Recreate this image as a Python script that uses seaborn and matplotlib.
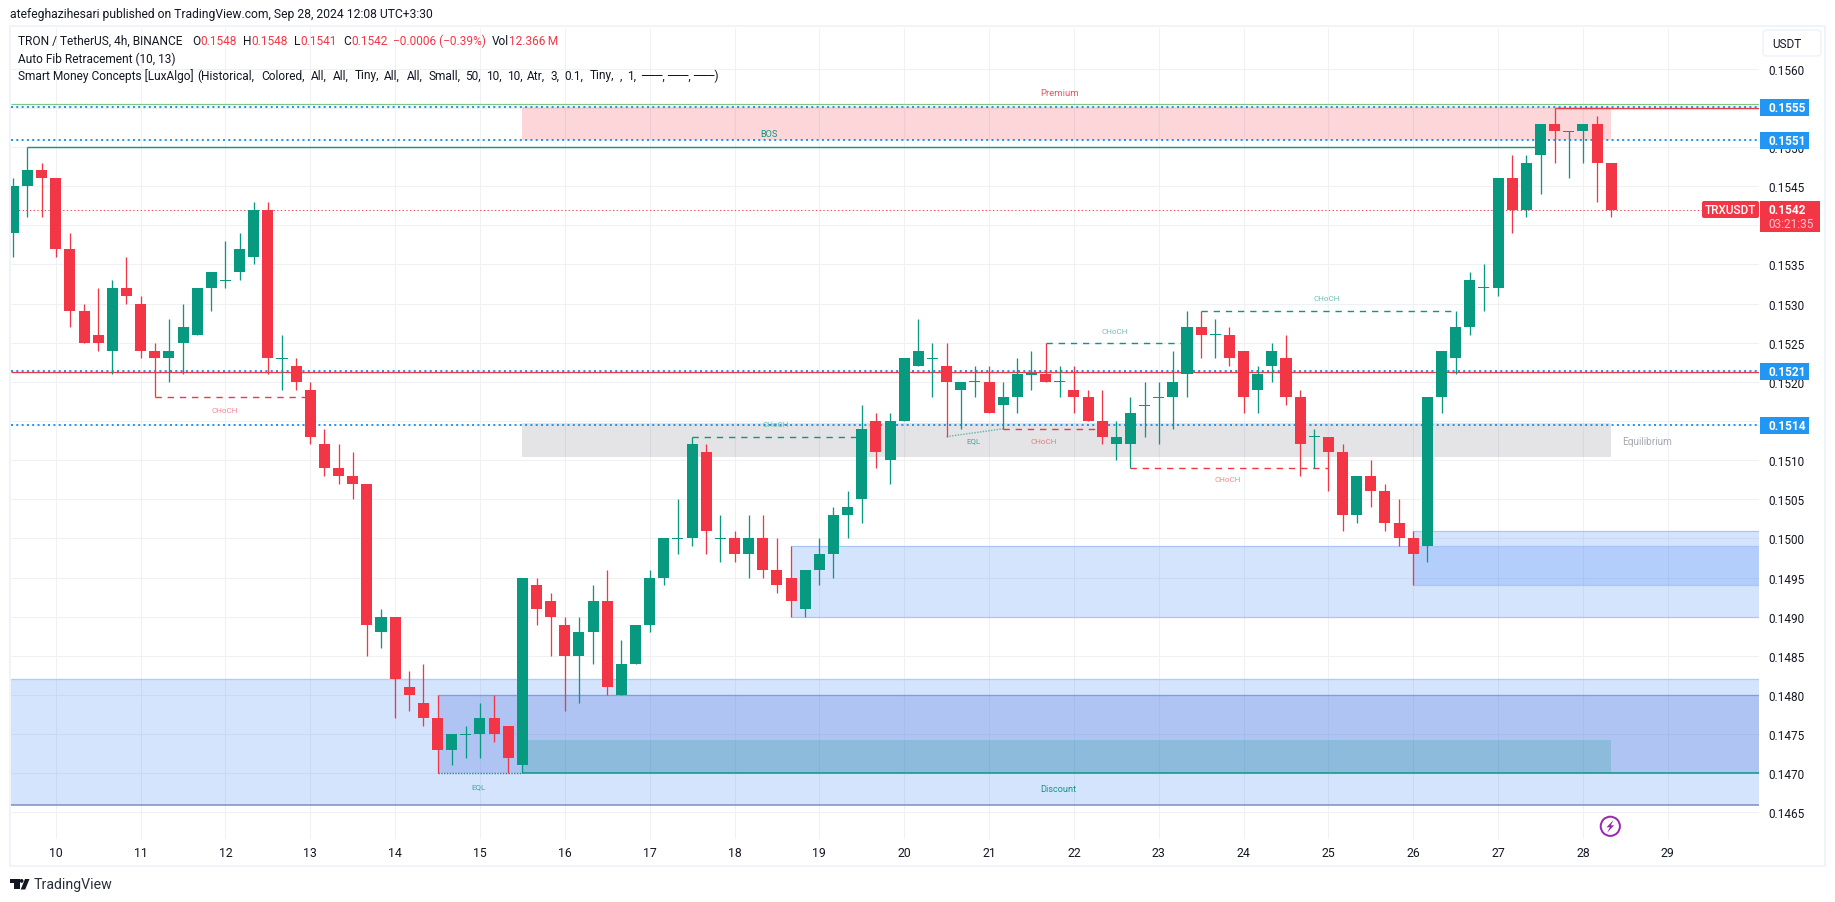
import seaborn as sns
import matplotlib.pyplot as plt
import matplotlib.patches as mpatches
import pandas as pd
import numpy as np

# 4h candles, prices
opens = [0.1539,0.1545,0.1547,0.1546,0.1537,0.1529,0.1526,0.1524,0.1532,0.1530,0.1524,0.1523,0.1525,0.1526,0.1532,0.1533,0.1534,0.1536,0.1542,0.1523,
         0.1522,0.1519,0.1512,0.1509,0.1508,0.1507,0.1488,0.1490,0.1481,0.1479,0.1477,0.1473,0.1475,0.1475,0.1477,0.1476,0.1471,0.1494,0.1492,0.1489,
         0.1485,0.1488,0.1492,0.1480,0.1484,0.1489,0.1495,0.1500,0.1500,0.1511,0.1500,0.1500,0.1498,0.1500,0.1496,0.1495,0.1491,0.1496,0.1498,0.1503,
         0.1505,0.1515,0.1510,0.1515,0.1522,0.1523,0.1522,0.1519,0.1520,0.1520,0.1517,0.1518,0.1521,0.1521,0.1520,0.1519,0.1518,0.1515,0.1512,0.1512,
         0.1517,0.1518,0.1518,0.1521,0.1527,0.1526,0.1526,0.1524,0.1519,0.1522,0.1523,0.1518,0.1513,0.1513,0.1511,0.1503,0.1508,0.1506,0.1502,0.1500,
         0.1499,0.1518,0.1523,0.1527,0.1532,0.1532,0.1546,0.1542,0.1549,0.1553,0.1552,0.1552,0.1553,0.1548]
highs = [0.1546,0.1550,0.1548,0.1546,0.1539,0.1530,0.1532,0.1533,0.1536,0.1531,0.1525,0.1528,0.1530,0.1532,0.1534,0.1538,0.1539,0.1543,0.1543,0.1526,
         0.1523,0.1520,0.1514,0.1512,0.1511,0.1507,0.1491,0.1490,0.1483,0.1484,0.1480,0.1475,0.1476,0.1479,0.1480,0.1476,0.1495,0.1495,0.1493,0.1490,
         0.1490,0.1494,0.1496,0.1487,0.1489,0.1496,0.1500,0.1505,0.1513,0.1512,0.1503,0.1501,0.1503,0.1503,0.1500,0.1499,0.1496,0.1500,0.1504,0.1506,
         0.1517,0.1516,0.1516,0.1523,0.1528,0.1525,0.1525,0.1520,0.1522,0.1522,0.1520,0.1523,0.1524,0.1525,0.1522,0.1522,0.1519,0.1519,0.1515,0.1518,
         0.1520,0.1520,0.1524,0.1529,0.1529,0.1528,0.1527,0.1524,0.1522,0.1525,0.1526,0.1519,0.1514,0.1513,0.1512,0.1508,0.1510,0.1507,0.1505,0.1501,
         0.1518,0.1524,0.1529,0.1534,0.1535,0.1546,0.1549,0.1549,0.1553,0.1555,0.1552,0.1553,0.1554,0.1548]
lows = [0.1536,0.1541,0.1541,0.1536,0.1527,0.1525,0.1524,0.1521,0.1530,0.1523,0.1518,0.1520,0.1521,0.1526,0.1529,0.1532,0.1533,0.1535,0.1521,0.1519,
        0.1519,0.1512,0.1508,0.1507,0.1505,0.1485,0.1486,0.1477,0.1478,0.1476,0.1470,0.1471,0.1472,0.1472,0.1474,0.1470,0.1470,0.1489,0.1485,0.1478,
        0.1479,0.1484,0.1480,0.1480,0.1484,0.1488,0.1494,0.1498,0.1499,0.1498,0.1497,0.1497,0.1495,0.1495,0.1493,0.1490,0.1490,0.1494,0.1495,0.1500,
        0.1502,0.1509,0.1507,0.1515,0.1522,0.1518,0.1513,0.1514,0.1518,0.1516,0.1514,0.1516,0.1519,0.1520,0.1518,0.1516,0.1515,0.1512,0.1510,0.1509,
        0.1513,0.1512,0.1514,0.1518,0.1523,0.1523,0.1522,0.1516,0.1516,0.1520,0.1517,0.1508,0.1509,0.1506,0.1501,0.1502,0.1504,0.1501,0.1499,0.1494,
        0.1497,0.1516,0.1521,0.1526,0.1529,0.1531,0.1539,0.1541,0.1544,0.1548,0.1546,0.1548,0.1543,0.1541]
closes = [0.1545,0.1547,0.1546,0.1537,0.1529,0.1525,0.1525,0.1532,0.1531,0.1524,0.1523,0.1524,0.1527,0.1532,0.1534,0.1533,0.1537,0.1542,0.1523,0.1523,
          0.1520,0.1513,0.1509,0.1508,0.1507,0.1489,0.1490,0.1482,0.1480,0.1477,0.1473,0.1475,0.1475,0.1477,0.1475,0.1472,0.1495,0.1491,0.1490,0.1485,
          0.1488,0.1492,0.1481,0.1484,0.1489,0.1495,0.1500,0.1500,0.1512,0.1501,0.1500,0.1498,0.1500,0.1496,0.1494,0.1492,0.1496,0.1498,0.1503,0.1504,
          0.1514,0.1511,0.1515,0.1523,0.1524,0.1523,0.1520,0.1520,0.1520,0.1516,0.1518,0.1521,0.1521,0.1520,0.1520,0.1518,0.1515,0.1513,0.1513,0.1516,
          0.1517,0.1518,0.1520,0.1527,0.1526,0.1526,0.1523,0.1518,0.1521,0.1524,0.1518,0.1512,0.1513,0.1511,0.1503,0.1508,0.1506,0.1502,0.1500,0.1498,
          0.1518,0.1524,0.1527,0.1533,0.1532,0.1546,0.1542,0.1548,0.1553,0.1552,0.1552,0.1553,0.1548,0.1542]

day_labels = list(range(10, 30))
price_ticks = [0.1465 + 0.0005 * k for k in range(20)]
hidden_ticks = ['0.1540', '0.1555', '0.1515']  # sit fully behind the price labels

# fib levels, structure lines and swing labels
fib_levels = [0.15551, 0.15509, 0.15214, 0.15145]
level_labels = ['0.1555', '0.1551', '0.1521', '0.1514']
last_price = 0.1542

choch_start = [10, 48, 70, 73, 84, 79]
choch_end = [21, 60, 77, 83, 102, 93]
choch_price = [0.1518, 0.1513, 0.1514, 0.1525, 0.1529, 0.1509]
choch_bull = [False, True, False, True, True, False]

note_text = ['BOS', 'Premium', 'CHoCH', 'CHoCH', 'EQL', 'CHoCH', 'CHoCH', 'CHoCH', 'CHoCH', 'EQL', 'Discount', 'Equilibrium']
note_x = [53.4, 74, 14.95, 53.9, 67.9, 72.9, 77.9, 92.9, 85.9, 32.9, 73.9, 115.5]
note_price = [0.15517, 0.15570, 0.15164, 0.15146, 0.15125, 0.15125, 0.15265, 0.15307, 0.15076, 0.14684, 0.1468, 0.15124]

GREEN = '#089981'
RED = '#f23645'
BLUE = '#2196f3'
ZONE = '#3179f5'
INK = '#131722'
GRID = '#f0f1f4'
PX = 0.72  # points per pixel at dpi 100
UI = 8.6

sns.set_theme(style='white', rc={'lines.solid_capstyle': 'butt', 'lines.dash_capstyle': 'butt'})
plt.rcParams['font.family'] = ['Roboto', 'DejaVu Sans']

fig = plt.figure(figsize=(18.35, 9.03), dpi=100, facecolor='white')
ax = fig.add_axes([10.5 / 1835, 63 / 903, 1748.5 / 1835, 811 / 903])

df = pd.DataFrame({'open': opens, 'high': highs, 'low': lows, 'close': closes})
df['candle'] = df.index
df['dir'] = np.where(df['close'] < df['open'], 'down', 'up')
colors = {'up': GREEN, 'down': RED}
RIGHT = 123.45
LEFT = -0.2


def level(x0, x1, y0, y1=None, **kw):
    y1 = y0 if y1 is None else y1
    sns.lineplot(x=[x0, x1], y=[y0, y1], ax=ax, estimator=None, errorbar=None, sort=False, legend=False, **kw)


def zone(x0, x1, p0, p1, color, alpha=0.2):
    ax.fill_between([x0, x1], p0, p1, color=color, alpha=alpha, lw=0, zorder=1)


# zones
zone(LEFT, RIGHT, 0.1466, 0.1482, ZONE)
zone(30, RIGHT, 0.1470, 0.1480, '#1848cc')
zone(55, RIGHT, 0.1490, 0.1499, ZONE)
zone(99, RIGHT, 0.1494, 0.1501, ZONE)
zone(36, 113, 0.15509, 0.15551, RED)
zone(36, 113, 0.15104, 0.15147, '#787b86')
zone(36, 113, 0.1470, 0.14742, GREEN)

# zone outlines
level(LEFT, RIGHT, 0.1482, color='#afcbfb', lw=1.4 * PX, zorder=2)
level(LEFT, RIGHT, 0.1466, color='#8490c4', lw=1.6 * PX, zorder=2)
level(30, RIGHT, 0.1480, color='#7c9ce6', lw=1.3 * PX, zorder=2)
for x0, p in [(55, 0.1499), (55, 0.1490), (99, 0.1501), (99, 0.1494)]:
    level(x0, RIGHT, p, color='#a9c4f8', lw=1.2 * PX, zorder=2)

# fib + structure levels
level(LEFT, RIGHT, 0.15555, color='#81c784', lw=1.2 * PX, zorder=2)
for p in fib_levels:
    level(LEFT, RIGHT, p, color=BLUE, lw=2 * PX, linestyle=(0, (1, 1.65)), zorder=2)
level(LEFT, RIGHT, 0.15212, color=RED, lw=1.3 * PX, zorder=2)
level(LEFT, RIGHT, last_price, color=RED, lw=0.9 * PX, linestyle=(0, (1.5, 2.6)), zorder=2)
level(1, 108, 0.1550, color=GREEN, lw=1.4 * PX, zorder=2)
level(36, RIGHT, 0.1470, color=GREEN, lw=1.5 * PX, zorder=2)
level(109, RIGHT, 0.1555, color=RED, lw=1.4 * PX, zorder=2)

for x0, x1, p, bull in zip(choch_start, choch_end, choch_price, choch_bull):
    level(x0, x1, p, color=GREEN if bull else RED, lw=1.4 * PX, linestyle=(0, (4.5, 4.2)), zorder=2)
level(66, 70, 0.1513, 0.1514, color=GREEN, lw=1.4 * PX, linestyle=(0, (1, 1)), alpha=0.6, zorder=2)
level(30, 36, 0.1470, color=GREEN, lw=1.4 * PX, linestyle=(0, (1, 1)), zorder=2)

# wicks
wicks = df.melt(id_vars=['candle', 'dir'], value_vars=['low', 'high'], value_name='price')
sns.lineplot(data=wicks, x='candle', y='price', units='candle', hue='dir', palette=colors, estimator=None,
             errorbar=None, sort=False, legend=False, lw=1.3 * PX, ax=ax, zorder=3)

# bodies, a doji stays 1px tall
body = (df['close'] - df['open']).abs().clip(lower=0.000014)
bottom = df[['open', 'close']].min(axis=1)
bottom = bottom.where((df['close'] - df['open']).abs() > 0, bottom - 0.000007)
ax.bar(df['candle'], body, bottom=bottom, width=0.78, color=df['dir'].map(colors), lw=0, zorder=4, antialiased=False)

# swing labels
for t, x, p in zip(note_text, note_x, note_price):
    if t == 'Equilibrium':
        c, fs, a = '#a6a9b2', 7.2, 1
    elif t == 'Premium':
        c, fs, a = RED, 6.8, 0.85
    elif t in ('BOS', 'Discount'):
        c, fs, a = GREEN, 6.6, 1
    elif t == 'EQL':
        c, fs, a = GREEN, 5.8, 0.75
    else:
        red_note = abs(p - 0.15164) < 1e-6 or abs(p - 0.15125) < 1e-6 or abs(p - 0.15076) < 1e-6
        c, fs, a = (RED if red_note else GREEN), 5.8, 0.6
    ax.text(x, p, t, color=c, fontsize=fs, alpha=a, ha='center', va='center', zorder=5)

# axes
ax.set_xlim(LEFT, RIGHT)
ax.set_ylim(0.14616, 0.15652)
ax.set_xticks([3 + 6 * (d - 10) for d in day_labels])
ax.set_xticklabels([str(d) for d in day_labels], fontsize=8.8, color=INK)
ax.set_yticks(price_ticks)
price_text = ['%.4f' % p for p in price_ticks]
ax.set_yticklabels(['' if t in hidden_ticks else t for t in price_text], fontsize=8.5, color=INK)
ax.yaxis.tick_right()
ax.tick_params(axis='x', length=0, pad=5)
ax.tick_params(axis='y', length=0, pad=6.5)
ax.grid(True, color=GRID, lw=1.1 * PX)
ax.set_axisbelow(True)
ax.set_xlabel('')
ax.set_ylabel('')
sns.despine(ax=ax, left=True, bottom=True, right=True, top=True)

# overlay in pixel coordinates for the TradingView chrome
ov = fig.add_axes([0, 0, 1, 1], zorder=10)
ov.set_xlim(0, 1835)
ov.set_ylim(903, 0)
ov.axis('off')
ov.patch.set_alpha(0)

ov.add_patch(mpatches.Rectangle((9.5, 27), 1815.5, 840.5, fill=False, ec='#f0f3fa', lw=2 * PX))
ov.text(10, 14.7, 'atefeghazihesari published on TradingView.com, Sep 28, 2024 12:08 UTC+3:30',
        fontsize=8.75, color=INK, va='center')

ov.text(18, 41.7, 'TRON / TetherUS, 4h, BINANCE', fontsize=UI, color=INK, va='center')
for x, t, c in [(192, 'O', INK), (200.5, '0.1548', RED), (243, 'H', INK), (251, '0.1548', RED),
                (294, 'L', INK), (300.5, '0.1541', RED), (343, 'C', INK), (351, '0.1542', RED),
                (393.4, '\u22120.0006 (\u22120.39%)', RED), (492, 'Vol', INK), (508.5, '12.366\u2009M', RED)]:
    ov.text(x, 41.7, t, fontsize=UI, color=c, va='center')
ov.text(18, 59, 'Auto Fib Retracement (10, 13)', fontsize=UI, color=INK, va='center')
ov.text(18, 76, 'Smart Money Concepts [LuxAlgo]', fontsize=UI, color=INK, va='center')
# the parameter list is spaced wider than Roboto, so it goes word by word
for x, t in [(197.7, '(Historical,'), (261, 'Colored,'), (310.8, 'All,'), (333, 'All,'), (355, 'Tiny,'),
             (384, 'All,'), (406.5, 'All,'), (428.6, 'Small,'), (465.4, '50,'), (486, '10,'), (507, '10,'),
             (527, 'Atr,'), (550, '3,'), (564, '0.1,'), (589.3, 'Tiny,'), (620, ','), (627.3, '1,'),
             (641, '\u2500\u2500\u2500,'), (666.7, '\u2500\u2500\u2500,'), (693, '\u2500\u2500\u2500)')]:
    ov.text(x, 76, t, fontsize=UI, color=INK, va='center')

# USDT button
ov.add_patch(mpatches.FancyBboxPatch((1764.5, 32.5), 55, 23, boxstyle='round,pad=1.5,rounding_size=4',
                                     fc='white', ec='#f0f3fa', lw=1.6 * PX))
ov.text(1772, 44.3, 'USDT', fontsize=8.5, color=INK, va='center')

# price labels
for p, t in zip([108.3, 141.4, 372.3, 426.3], level_labels):
    ov.add_patch(mpatches.Rectangle((1760, p - 8.5), 49, 17, fc=BLUE, ec='none'))
    ov.text(1768, p, t, fontsize=8.6, color='white', weight='bold', va='center')
ov.add_patch(mpatches.FancyBboxPatch((1702.5, 202.5), 56, 16, boxstyle='round,pad=0.5,rounding_size=2', fc=RED, ec='none'))
ov.text(1730.5, 210.5, 'TRXUSDT', fontsize=8.5, color='white', weight='medium', ha='center', va='center')
ov.add_patch(mpatches.Rectangle((1760, 202), 60, 31, fc=RED, ec='none'))
ov.text(1768, 210.3, '0.1542', fontsize=8.6, color='white', weight='bold', va='center')
ov.text(1768, 224.7, '03:21:35', fontsize=8.5, color='#fbc3c8', va='center')

# bolt marker
ov.add_patch(mpatches.Circle((1610.3, 827.3), 9.6, fill=False, ec='#9c27b0', lw=2 * PX))
ov.add_patch(mpatches.Polygon([(1613.5, 821), (1606.5, 828.3), (1609.8, 828.3), (1607.2, 833.6),
                               (1614.2, 826.3), (1610.9, 826.3)], fc='#9c27b0', ec='none'))

# logo
ov.add_patch(mpatches.Rectangle((10, 880), 9.5, 3.6, fc=INK, ec='none'))
ov.add_patch(mpatches.Rectangle((14.2, 880), 5.3, 10.5, fc=INK, ec='none'))
ov.add_patch(mpatches.Circle((21.6, 881.9), 1.9, fc=INK, ec='none'))
ov.add_patch(mpatches.Polygon([(25, 880), (29.5, 880), (25.2, 890.5), (20.7, 890.5)], fc=INK, ec='none'))
ov.text(33.6, 885.5, 'TradingView', fontsize=10.2, color='#2a2e39', va='center')

fig.savefig('out.png', dpi=100)
